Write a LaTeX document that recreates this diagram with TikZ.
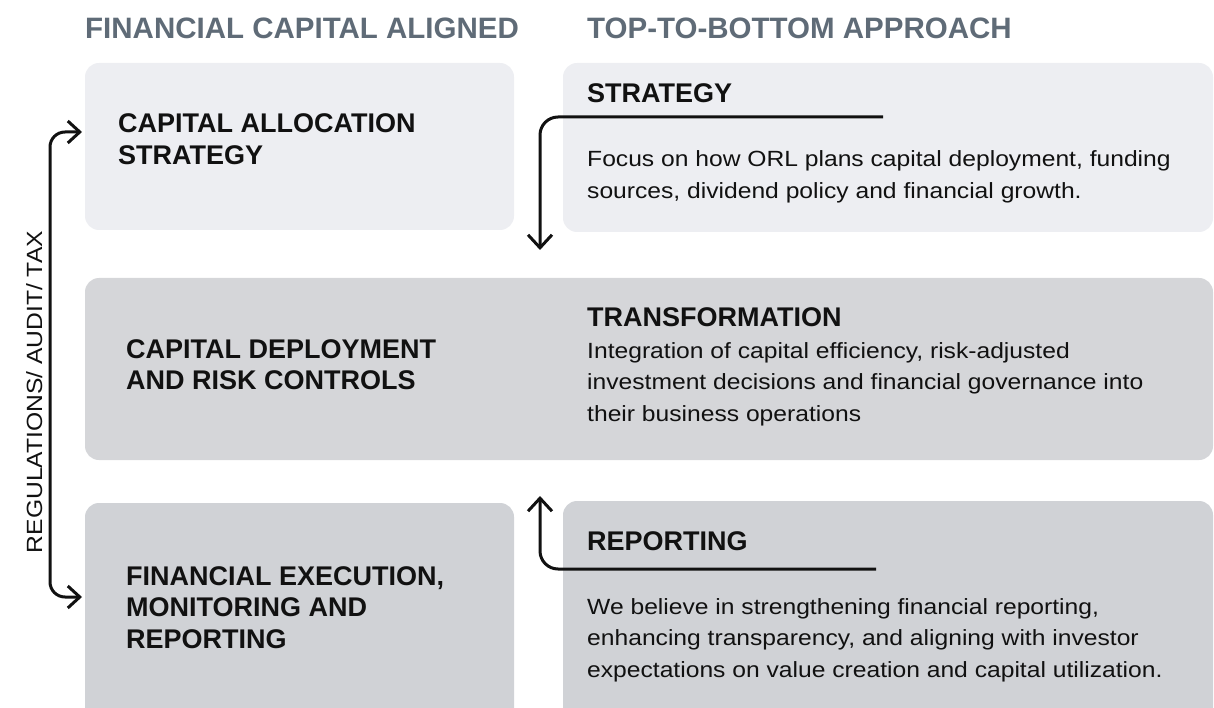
\documentclass[tikz,border=0pt]{standalone}
\usepackage{fontspec}
\setmainfont{Liberation Sans}
\newfontfamily\widesans[FakeStretch=1.12]{Liberation Sans}
\usetikzlibrary{arrows.meta}
\definecolor{headgrey}{HTML}{5F6B77}
\definecolor{boxlight}{HTML}{EDEEF2}
\definecolor{boxmid}{HTML}{D5D6D9}
\definecolor{boxdark}{HTML}{D0D2D6}
\definecolor{ink}{HTML}{111111}
\tikzset{
  panel/.style={fill=#1, draw=none, rounded corners=14pt},
  heading/.style={anchor=base west, inner sep=0pt, text=headgrey, font=\fontsize{29.5}{34}\selectfont\bfseries},
  title/.style={anchor=base west, inner sep=0pt, text=ink, align=left, font=\fontsize{27}{31.5}\selectfont\bfseries},
  desc/.style={anchor=base west, inner sep=0pt, text=ink, align=left, font=\widesans\fontsize{22}{31.5}\selectfont},
  flow/.style={line width=3pt, draw=ink, rounded corners=18pt, -{Straight Barb[length=13pt,width=24pt]}},
  side/.style={line width=3pt, draw=ink, rounded corners=15pt, {Straight Barb[length=12pt,width=22pt]}-{Straight Barb[length=12pt,width=22pt]}},
}
\begin{document}
\begin{tikzpicture}[x=1pt,y=-1pt]
\useasboundingbox (0,0) rectangle (1214,708);
% panels
\path[panel=boxlight] (85,63) rectangle (514,230);
\path[panel=boxlight] (563,63) rectangle (1213,232);
\path[panel=boxmid] (85,278) rectangle (1213,460);
\path[panel=boxdark] (85,503) rectangle (514,730);
\path[panel=boxdark] (563,501) rectangle (1213,730);
% headings
\node[heading] (h1) at (85,39) {FINANCIAL CAPITAL ALIGNED};
\node[heading] (h2) at (587,39) {TOP-TO-BOTTOM APPROACH};
% left titles (anchor = baseline of last line)
\node[title] (l1) at (118,164.5) {CAPITAL ALLOCATION\\STRATEGY};
\node[title] (l2) at (126,389.5) {CAPITAL DEPLOYMENT\\AND RISK CONTROLS};
\node[title] (l3) at (126,648) {FINANCIAL EXECUTION,\\MONITORING AND\\REPORTING};
% right titles
\node[title] (r1) at (587,103) {STRATEGY};
\node[title] (r2) at (587,326) {TRANSFORMATION};
\node[title] (r3) at (587,550) {REPORTING};
% descriptions
\node[desc] (d1) at (587,198.5) {Focus on how ORL plans capital deployment, funding\\sources, dividend policy and financial growth.};
\node[desc] (d2) at (587,421) {Integration of capital efficiency, risk-adjusted\\investment decisions and financial governance into\\their business operations};
\node[desc] (d3) at (587,677) {We believe in strengthening financial reporting,\\enhancing transparency, and aligning with investor\\expectations on value creation and capital utilization.};
% connectors
\coordinate (s1) at (883,117);
\coordinate (s2) at (540,250);
\draw[flow] (s1) -| (s2);
\coordinate (p1) at (876,569);
\coordinate (p2) at (540,496);
\draw[flow] (p1) -| (p2);
\coordinate (lt) at (82,132);
\coordinate (lb) at (82,597);
\draw[side] (lt) -- ([xshift=-32pt]lt) |- (lb);
\node[anchor=base, rotate=90, inner sep=0pt, text=ink, font=\widesans\fontsize{22}{26}\selectfont] (reg) at (42,392) {REGULATIONS/ AUDIT/ TAX};
\end{tikzpicture}
\end{document}
